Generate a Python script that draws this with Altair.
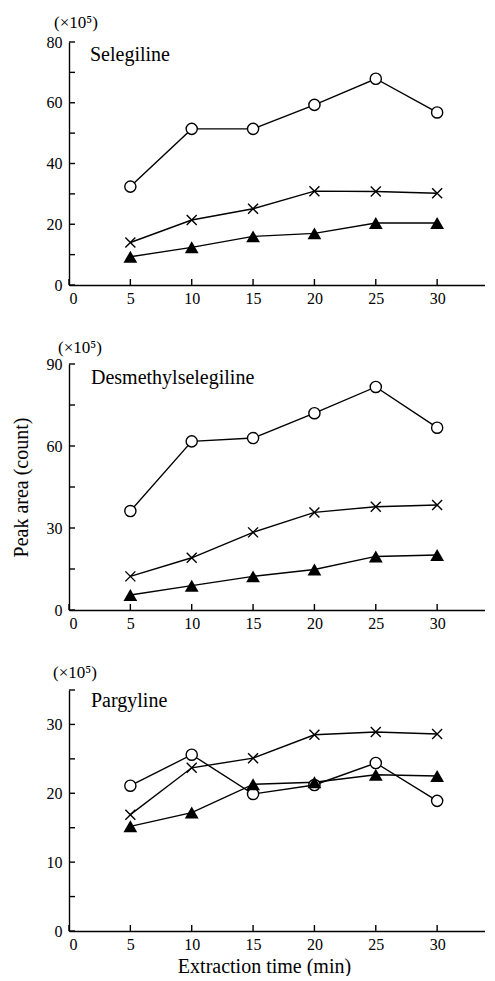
import altair as alt
import pandas as pd

FONT = "Liberation Serif"

times = [5, 10, 15, 20, 25, 30]

# Selegiline
sel_circle = [32.4, 51.4, 51.4, 59.3, 67.9, 56.8]
sel_cross = [14.0, 21.4, 25.1, 30.9, 30.8, 30.2]
sel_tri = [9.3, 12.4, 16.0, 17.0, 20.4, 20.4]

# Desmethylselegiline
des_circle = [36.2, 61.7, 62.9, 72.0, 81.6, 66.7]
des_cross = [12.3, 19.1, 28.4, 35.7, 37.8, 38.4]
des_tri = [5.5, 8.9, 12.3, 14.8, 19.6, 20.1]

# Pargyline
par_circle = [21.1, 25.6, 19.9, 21.2, 24.4, 18.9]
par_cross = [16.9, 23.7, 25.1, 28.5, 28.9, 28.6]
par_tri = [15.2, 17.2, 21.3, 21.6, 22.7, 22.5]

panel_names = ["Selegiline", "Desmethylselegiline", "Pargyline"]
y_max = [80, 90, 35]
y_label_vals = [[0, 20, 40, 60, 80], [0, 30, 60, 90], [0, 10, 20, 30]]
y_tick_vals = [
    [0, 10, 20, 30, 40, 50, 60, 70, 80],
    [0, 15, 30, 45, 60, 75, 90],
    [0, 5, 10, 15, 20, 25, 30, 35],
]
x_tick_vals = [0, 5, 10, 15, 20, 25, 30]
multiplier = "(×10⁵)"

series_values = [
    {"circle": sel_circle, "cross": sel_cross, "tri": sel_tri},
    {"circle": des_circle, "cross": des_cross, "tri": des_tri},
    {"circle": par_circle, "cross": par_cross, "tri": par_tri},
]

W = 416
X_MAX = 33.9
heights = [243, 246, 241]
mult_pos = [(-15, -19), (-11, -16), (-16, -17)]
name_pos = [(21, 19), (22, 20), (22, 17)]


def make_panel(i):
    rows = []
    for s, vals in series_values[i].items():
        for t, v in zip(times, vals):
            rows.append({"series": s, "time": t, "value": v})
    df = pd.DataFrame(rows)
    H = heights[i]

    x_axis_kw = dict(values=x_tick_vals, ticks=False, labelPadding=5,
                     labelFont=FONT, labelFontSize=16, titleFont=FONT)
    if i == 2:
        x_axis = alt.Axis(title="Extraction time (min)", titlePadding=4, titleX=195, **x_axis_kw)
    else:
        x_axis = alt.Axis(title=None, **x_axis_kw)
    y_axis_kw = dict(values=y_label_vals[i], ticks=False, labelPadding=7,
                     labelFont=FONT, labelFontSize=16, titleFont=FONT)
    if i == 1:
        y_axis = alt.Axis(title="Peak area (count)", titlePadding=15, **y_axis_kw)
    else:
        y_axis = alt.Axis(title=None, **y_axis_kw)

    x = alt.X("time:Q", scale=alt.Scale(domain=[0, X_MAX], nice=False), axis=x_axis)
    y = alt.Y("value:Q", scale=alt.Scale(domain=[0, y_max[i]], nice=False), axis=y_axis)

    base = alt.Chart(df)
    lines = base.mark_line(color="black", strokeWidth=1.4).encode(
        x=x, y=y, detail="series:N"
    )
    circles = base.transform_filter(alt.datum.series == "circle").mark_point(
        shape="circle", filled=True, fill="white", stroke="black",
        strokeWidth=1.4, size=125, opacity=1
    ).encode(x=x, y=y)
    crosses = base.transform_filter(alt.datum.series == "cross").mark_point(
        shape="M-1,-1L1,1M-1,1L1,-1", filled=False, stroke="black",
        strokeWidth=1.4, size=100, opacity=1
    ).encode(x=x, y=y)
    tris = base.transform_filter(alt.datum.series == "tri").mark_point(
        shape="triangle-up", filled=True, fill="black", size=190, opacity=1
    ).encode(x=x, y=y)

    yt = alt.Chart(pd.DataFrame({"value": y_tick_vals[i]})).mark_rule(
        color="black", strokeWidth=1.4
    ).encode(y=y, x=alt.value(0), x2=alt.value(6))
    xt = alt.Chart(pd.DataFrame({"time": x_tick_vals})).mark_rule(
        color="black", strokeWidth=1.4
    ).encode(x=x, y=alt.value(H), y2=alt.value(H - 6))

    mx, my = mult_pos[i]
    mult = alt.Chart(pd.DataFrame({"m": [multiplier]})).mark_text(
        align="left", baseline="middle", font=FONT, fontSize=17, color="black"
    ).encode(text="m:N", x=alt.value(mx), y=alt.value(my))

    nx, ny = name_pos[i]
    name = alt.Chart(pd.DataFrame({"n": [panel_names[i]]})).mark_text(
        align="left", baseline="alphabetic", font=FONT, fontSize=20, color="black"
    ).encode(text="n:N", x=alt.value(nx), y=alt.value(ny))

    return alt.layer(lines, yt, xt, circles, crosses, tris, mult, name).properties(
        width=W, height=H
    )


chart = (
    alt.vconcat(make_panel(0), make_panel(1), make_panel(2), spacing=33)
    .properties(padding={"left": 3, "top": 6, "right": 0, "bottom": 0})
    .configure(font=FONT)
    .configure_view(strokeWidth=0)
    .configure_axis(
        grid=False,
        domainColor="black",
        domainWidth=1.4,
        labelFont=FONT,
        labelFontSize=16,
        labelColor="black",
        titleFont=FONT,
        titleFontSize=20,
        titleFontWeight="normal",
        titleColor="black",
    )
)

chart.save("out.html", embed_options={"renderer": "svg", "actions": False})
